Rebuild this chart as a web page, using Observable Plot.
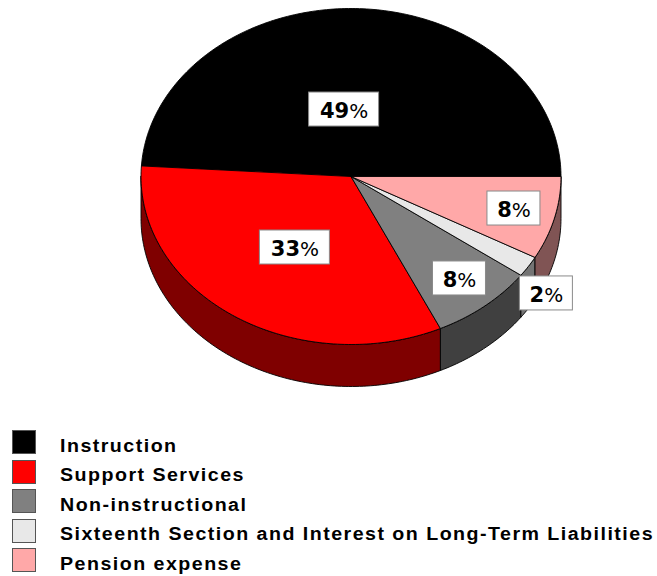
<!DOCTYPE html>
<html>
<head>
<meta charset="utf-8">
<script src="https://cdn.jsdelivr.net/npm/d3@7"></script>
<script src="https://cdn.jsdelivr.net/npm/@observablehq/plot@0.6"></script>
<style>
  html, body { margin: 0; padding: 0; background: #fff; overflow: hidden; }
  #chart svg { display: block; background: #fff; }
  #legend { margin: 7.5px 0 0 12px; font: bold 18px "Liberation Sans", Arial, sans-serif; letter-spacing: 1.35px; color: #000; }
  .row { display: flex; align-items: center; height: 29.5px; white-space: nowrap; }
  .swatch { box-sizing: border-box; width: 24px; height: 24px; border: 1px solid #555; margin-right: 24px; flex: none; }
  .row span { display: inline-block; transform: scaleX(1.09); transform-origin: left center; position: relative; top: 4px; }
</style>
</head>
<body>
<div id="chart"></div>
<div id="legend"></div>
<script>
// Expense shares, percent of total
const categories = ["Instruction", "Support Services", "Non-instructional", "Sixteenth Section and Interest on Long-Term Liabilities", "Pension expense"];
const shares = [49, 33, 8, 2, 8];
const topColors = ["#000000", "#ff0000", "#808080", "#e8e8e8", "#ffa8a8"];
const sideColors = ["#000000", "#7f0000", "#404040", "#747474", "#805454"];

// Label placement relative to each slice's middle: radius fraction and angle nudge in degrees
const labelRadius = [0.40, 0.50, 0.797, 1.162, 0.799];
const labelNudge = [6.5, 1.9, 0.8, -4.4, 0.6];

const rad = Math.PI / 180;
const thickness = 0.25;              // wall height in y units of the unit ellipse
const pxX = 210, pxY = 168;          // pixels per unit on each axis

// Slices run counter-clockwise from the right-hand edge
let running = 0;
const slices = shares.map((v, i) => {
  const a0 = running * 3.6;
  running += v;
  return {i, value: v, a0, a1: running * 3.6, mid: (a0 + running * 3.6) / 2};
});

function arcPoints(a0, a1) {
  const n = Math.max(2, Math.ceil(a1 - a0));
  return d3.range(n + 1).map(k => {
    const a = (a0 + (a1 - a0) * k / n) * rad;
    return [Math.cos(a), Math.sin(a)];
  });
}

// Top faces: centre, arc, back to centre
const tops = slices.flatMap(s => {
  const pts = [[0, 0], ...arcPoints(s.a0, s.a1), [0, 0]];
  return pts.map(([x, y]) => ({id: s.i, x, y, color: topColors[s.i]}));
});

// Walls exist only for the part of each slice on the front half of the ellipse
const walls = slices.flatMap(s => {
  const a0 = Math.max(s.a0, 180), a1 = s.a1;
  if (a1 <= a0) return [];
  const arc = arcPoints(a0, a1);
  const pts = [...arc, ...arc.slice().reverse().map(([x, y]) => [x, y - thickness]), arc[0]];
  return pts.map(([x, y]) => ({id: s.i, x, y, color: sideColors[s.i]}));
});

const labels = slices.map(s => {
  const a = (s.mid + labelNudge[s.i]) * rad, r = labelRadius[s.i];
  const x = r * Math.cos(a), y = r * Math.sin(a);
  const hw = (s.value >= 10 ? 35 : 26.5) / pxX, hh = 17 / pxY;
  return {x, y, x1: x - hw, x2: x + hw, y1: y - hh, y2: y + hh, text: s.value + "%"};
});

const chart = Plot.plot({
  width: 657,
  height: 420,
  margin: 0,
  x: {domain: [-1, 1], range: [140.5, 560.5], axis: null},
  y: {domain: [1, -1], range: [8, 344], axis: null},
  color: {type: "identity"},
  marks: [
    Plot.line(walls, {x: "x", y: "y", z: "id", fill: "color", stroke: "#000", strokeWidth: 0.9, curve: "linear"}),
    Plot.line(tops, {x: "x", y: "y", z: "id", fill: "color", stroke: "#000", strokeWidth: 0.9, curve: "linear"}),
    Plot.rect(labels, {x1: "x1", x2: "x2", y1: "y1", y2: "y2", fill: "#fff", stroke: "#8a8a8a", strokeWidth: 1}),
    Plot.text(labels, {x: "x", y: "y", dy: 2, text: "text", fontFamily: "DejaVu Sans, Verdana, sans-serif", fontSize: 21, fontWeight: "bold", fill: "#000"})
  ]
});
document.getElementById("chart").append(chart);

// The digits are heavy, the percent sign is set lighter
d3.select(chart).selectAll("text").each(function () {
  const t = d3.select(this), tspan = t.select("tspan");
  const host = tspan.empty() ? t : tspan;
  const str = host.text();
  if (!str.endsWith("%")) return;
  host.text(null);
  host.append("tspan").text(str.slice(0, -1));
  host.append("tspan").text("%").attr("font-weight", "normal").attr("font-size", 20);
});

const legend = d3.select("#legend");
categories.forEach((name, i) => {
  const row = legend.append("div").attr("class", "row");
  row.append("div").attr("class", "swatch").style("background", topColors[i]);
  row.append("span").text(name);
});
</script>
</body>
</html>
